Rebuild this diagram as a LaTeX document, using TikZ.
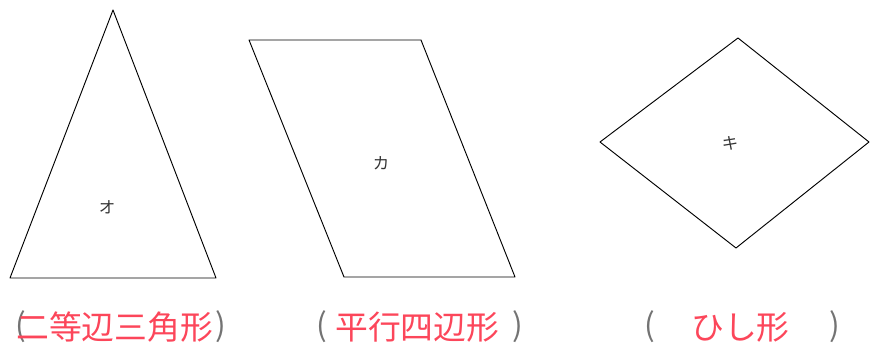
\documentclass[tikz,border=0pt]{standalone}
\usepackage{fontspec}
\newfontfamily\jpfont{Noto Sans CJK JP}
\definecolor{answerred}{RGB}{252,70,90}
\begin{document}
\begin{tikzpicture}[x=0.3mm, y=-0.3mm, line join=round, line cap=round,
    figline/.style={draw, line width=0.8pt},
    tag/.style={font=\jpfont\fontsize{14}{14}\selectfont, text=black!80, inner sep=0pt},
    answer/.style={font=\jpfont\fontsize{28}{28}\selectfont, text=answerred, inner sep=0pt, anchor=west},
    paren/.style={font=\jpfont\fontsize{27}{27}\selectfont, text=black!55, inner sep=0pt}]
  \useasboundingbox (0,0) rectangle (871,345);
  % isosceles triangle
  \coordinate (o1) at (113,10);
  \coordinate (o2) at (216,278);
  \coordinate (o3) at (10,278);
  \draw[figline] (o1)--(o2)--(o3)--cycle;
  \node[tag] (o) at (107,207) {オ};
  % parallelogram
  \coordinate (k1) at (249,40);
  \coordinate (k2) at (421,40);
  \coordinate (k3) at (515,277);
  \coordinate (k4) at (344,277);
  \draw[figline] (k1)--(k2)--(k3)--(k4)--cycle;
  \node[tag] (ka) at (381,163) {カ};
  % rhombus
  \coordinate (h1) at (738,38);
  \coordinate (h2) at (869,142);
  \coordinate (h3) at (736,248);
  \coordinate (h4) at (600,142);
  \draw[figline] (h1)--(h2)--(h3)--(h4)--cycle;
  \node[tag] (ki) at (730,143) {キ};
  % answers
  \node[paren] (lp1) at (21,327) {(};
  \node[answer] (a1) at (16,327) {二等辺三角形};
  \node[paren] (rp1) at (221,327) {)};
  \node[paren] (lp2) at (322,327) {(};
  \node[answer] (a2) at (335,327) {平行四辺形};
  \node[paren] (rp2) at (518,327) {)};
  \node[paren] (lp3) at (650,327) {(};
  \node[answer] (a3) at (691,327) {ひし形};
  \node[paren] (rp3) at (835,327) {)};
\end{tikzpicture}
\end{document}
